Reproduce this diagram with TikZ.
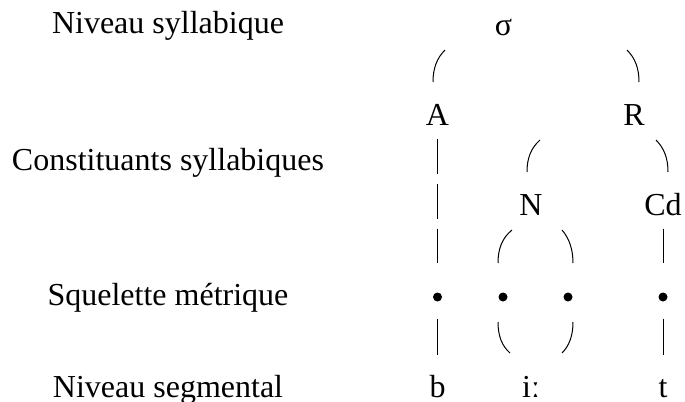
\documentclass[tikz,border=0pt]{standalone}
\usepackage{fontspec}
\setmainfont{Liberation Serif}

\tikzset{every picture/.style={line width=0.75pt}}
\tikzset{
  lvl/.style={anchor=base,inner sep=0pt,font=\fontsize{24}{28}\selectfont},
  seg/.style={anchor=base,inner sep=0pt,text height=16pt,text depth=0pt,font=\fontsize{24}{28}\selectfont},
  skel/.style={circle,fill=black,inner sep=0pt,minimum size=6.75pt},
  stem/.style={draw=black},
  hook/.style={draw=black}
}

\begin{document}
\begin{tikzpicture}[x=0.75pt,y=0.75pt,yscale=-1,xscale=1]
\useasboundingbox (0,0) rectangle (685,401);

% level names
\node[lvl] (lsyl) at (168,33) {Niveau syllabique};
\node[lvl] (lcon) at (168,170) {Constituants syllabiques};
\node[lvl] (lsqu) at (168,305) {Squelette métrique};
\node[lvl] (lseg) at (168,397) {Niveau segmental};

% tree
\node[seg] (sig) at (503.5,35) {σ};
\node[seg] (A) at (437.5,125) {A};
\node[seg] (R) at (634,125) {R};
\node[seg] (N) at (531,215) {N};
\node[seg] (Cd) at (663,215) {Cd};

% skeleton
\node[skel] (d1) at (437.5,297) {};
\node[skel] (d2) at (503,297) {};
\node[skel] (d3) at (568,297) {};
\node[skel] (d4) at (663,297) {};

% segments
\node[seg] (b) at (437.5,397) {b};
\node[seg] (i) at (531,397) {iː};
\node[seg] (t) at (663,397) {t};

% ends of the hooks
\coordinate (sA1) at (445,50);   \coordinate (sA2) at (433,82);
\coordinate (sR1) at (627,50);   \coordinate (sR2) at (639,82);
\coordinate (RN1) at (540,140);  \coordinate (RN2) at (527,172);
\coordinate (RC1) at (656,140);  \coordinate (RC2) at (668,172);
\coordinate (N21) at (512,230);  \coordinate (N22) at (498,263);
\coordinate (N31) at (562,230);  \coordinate (N32) at (573,263);
\coordinate (i21) at (498,322);  \coordinate (i22) at (510,353);
\coordinate (i31) at (573,322);  \coordinate (i32) at (562,353);

\draw[hook] (sA1) .. controls (437,58) and (433,68) .. (sA2);
\draw[hook] (sR1) .. controls (635,58) and (639,68) .. (sR2);
\draw[hook] (RN1) .. controls (531,148) and (527,158) .. (RN2);
\draw[hook] (RC1) .. controls (664,148) and (668,158) .. (RC2);
\draw[hook] (N21) .. controls (502,238) and (498,249) .. (N22);
\draw[hook] (N31) .. controls (569,238) and (573,249) .. (N32);
\draw[hook] (i21) .. controls (498,336) and (502,346) .. (i22);
\draw[hook] (i31) .. controls (573,336) and (569,346) .. (i32);

% stems
\draw[stem,dash pattern=on 26.25pt off 7.5pt,shorten <=9.75pt,shorten >=22.1pt] (A.south) -- (d1.north);
\draw[stem,shorten <=9.75pt,shorten >=22.1pt] (Cd.south) -- (d4.north);
\draw[stem,shorten <=12.4pt,shorten >=15.5pt] (d1.south) -- (b.north);
\draw[stem,shorten <=12.4pt,shorten >=15.5pt] (d4.south) -- (t.north);

\end{tikzpicture}
\end{document}
